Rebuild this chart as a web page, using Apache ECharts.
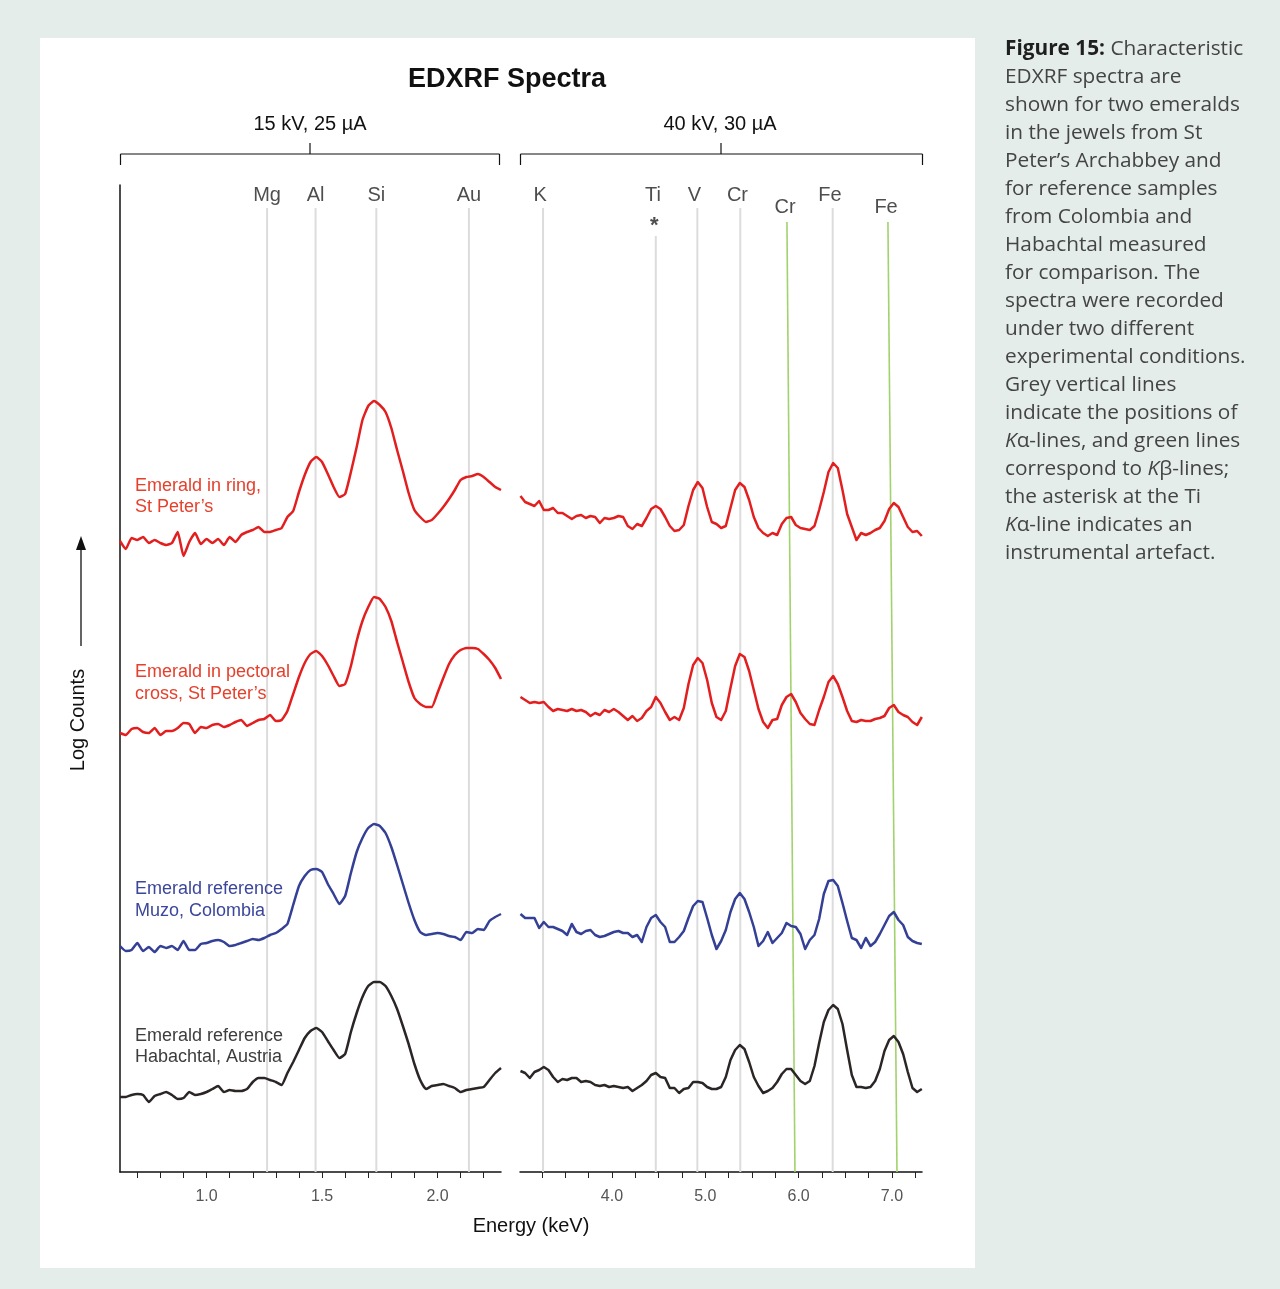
<!DOCTYPE html>
<html>
<head>
<meta charset="utf-8">
<script src="https://cdn.jsdelivr.net/npm/echarts@6/dist/echarts.min.js"></script>
<style>
  html, body { margin: 0; padding: 0; background: #e4edea; }
  #chart { width: 1280px; height: 1289px; }
</style>
</head>
<body>
<div id="chart"></div>
<script>
// ---- Energy channels (keV) ----
const lowStart = 0.625, lowStep = 0.025;   // 15 kV, 25 µA window
const highStart = 3.02, highStep = 0.05;   // 40 kV, 30 µA window

// ---- Log counts (arbitrary units, spectra stacked) ----
const ringLow = [631,623,634,632,635,629,632,629,627,629,640,616,630,639,628,633,629,633,627,635,630,637,640,642,645,640,640,642,644,655,661,680,697,710,715,710,698,685,675,678,700,725,752,766,771,767,760,744,722,701,679,662,655,650,652,658,665,673,682,692,695,696,698,695,690,685,682];
const ringHigh = [676,670,668,666,671,662,662,664,659,659,656,653,656,657,654,656,655,649,654,653,654,656,655,646,643,648,646,654,663,666,663,655,646,641,642,647,666,682,690,684,665,650,648,644,646,664,682,689,685,672,655,644,639,636,639,637,648,654,655,647,644,643,642,646,662,680,700,709,704,682,658,645,632,639,637,639,642,644,651,663,669,665,655,645,640,641,636];

const crossLow = [439,437,443,444,440,439,444,437,441,441,444,449,448,439,445,444,447,448,445,447,450,452,446,449,452,453,457,451,452,461,478,495,509,518,521,516,507,496,486,488,506,531,551,565,575,573,565,551,530,510,490,474,468,465,465,479,494,508,517,522,524,524,523,518,512,504,493];
const crossHigh = [475,472,469,470,469,470,465,461,463,462,461,463,461,462,460,456,459,457,462,460,463,460,456,452,456,451,454,461,465,475,469,460,452,455,452,464,488,507,514,509,492,469,455,452,461,484,506,518,515,501,482,463,450,444,452,453,467,475,478,470,459,453,448,447,462,475,490,496,488,475,461,451,450,452,451,451,453,454,456,464,467,460,457,455,450,447,455];

const muzoLow = [226,221,222,229,221,225,220,226,224,226,222,231,222,222,228,229,231,232,230,226,227,229,231,233,232,234,237,239,243,248,267,286,296,302,303,300,288,278,268,276,299,320,334,344,348,346,339,325,307,288,269,252,240,237,238,239,238,236,235,232,240,239,243,242,251,255,258];
const muzoHigh = [258,254,254,254,244,250,245,245,243,241,237,248,240,238,241,242,237,235,236,238,240,241,239,239,235,237,230,245,254,257,250,245,230,230,235,241,254,266,271,270,254,237,223,231,242,260,273,279,273,260,245,226,231,240,229,234,239,249,246,245,238,223,232,237,253,278,291,292,286,269,251,234,232,224,234,226,230,238,247,256,260,252,247,235,231,229,228];

const habachtalLow = [75,75,77,78,77,70,76,78,80,77,73,74,80,77,78,80,83,86,80,82,81,81,83,90,94,94,92,90,87,99,110,122,134,141,144,140,131,122,114,118,140,159,175,186,190,190,186,176,163,146,128,108,92,83,86,87,88,86,84,80,82,83,84,85,92,99,104];
const habachtalHigh = [101,99,94,100,102,105,102,95,90,93,92,94,94,90,91,90,87,86,87,85,86,85,84,85,81,84,87,91,97,99,95,94,84,84,79,83,84,90,90,89,85,83,83,85,95,112,122,127,123,110,95,86,79,81,84,90,98,103,103,97,91,88,91,106,129,150,162,167,163,148,122,97,85,85,84,85,91,103,121,132,136,130,118,100,84,80,83];

// ---- Axis ticks and labels (keV) ----
const lowTicks = [0.7,0.8,0.9,1.0,1.1,1.2,1.3,1.4,1.5,1.6,1.7,1.8,1.9,2.0,2.1,2.2];
const lowTickLabels = [1.0,1.5,2.0];
const highTicks = [3.25,3.5,3.75,4.0,4.25,4.5,4.75,5.0,5.25,5.5,5.75,6.0,6.25,6.5,6.75,7.0,7.25];
const highTickLabels = [4.0,5.0,6.0,7.0];

// ---- Kα line positions (keV) ----
const lowKalpha = [
  { name: 'Mg', energy: 1.262 },
  { name: 'Al', energy: 1.472 },
  { name: 'Si', energy: 1.735 },
  { name: 'Au', energy: 2.136 }
];
const highKalpha = [
  { name: 'K',  energy: 3.262 },
  { name: 'Ti', energy: 4.47 },
  { name: 'V',  energy: 4.915 },
  { name: 'Cr', energy: 5.375 },
  { name: 'Fe', energy: 6.365 }
];
// Kβ lines, drawn from their top energy to their energy at the axis
const highKbeta = [
  { name: 'Cr', top: 5.875, bottom: 5.961 },
  { name: 'Fe', top: 6.957, bottom: 7.054 }
];
const artefactLine = 'Ti';

const FONT = '"Liberation Sans", Arial, sans-serif';
const RED = '#e31e1e', BLUE = '#343f96', DARK = '#2b2625';

function channels(values, start, step) {
  return values.map((v, i) => [+(start + i * step).toFixed(4), v]);
}

function spectrum(name, values, start, step, color, grid) {
  return {
    name, type: 'line', xAxisIndex: grid, yAxisIndex: grid,
    data: channels(values, start, step),
    symbol: 'none', smooth: grid === 0 ? 0.15 : false, silent: true, z: 5,
    lineStyle: { color, width: 2.5, join: 'round' }
  };
}

const series = [];

// grey Kα marker lines
const LINE_TOP = 964, TI_TOP = 936, LABEL_Y = 979;
lowKalpha.forEach(l => series.push({
  type: 'line', xAxisIndex: 0, yAxisIndex: 0, symbol: 'none', silent: true, z: 1,
  data: [[l.energy, 0], [l.energy, LINE_TOP]],
  lineStyle: { color: '#dcdcdc', width: 2 }
}));
highKalpha.forEach(l => series.push({
  type: 'line', xAxisIndex: 1, yAxisIndex: 1, symbol: 'none', silent: true, z: 1,
  data: [[l.energy, 0], [l.energy, l.name === artefactLine ? TI_TOP : LINE_TOP]],
  lineStyle: { color: '#dcdcdc', width: 2 }
}));
// green Kβ marker lines
highKbeta.forEach(l => series.push({
  type: 'line', xAxisIndex: 1, yAxisIndex: 1, symbol: 'none', silent: true, z: 2,
  data: [[l.bottom, 0], [l.top, 950]],
  lineStyle: { color: '#a2d26c', width: 1.6 }
}));

// element labels
const labelStyle = { show: true, position: 'inside', formatter: '{b}', color: '#222', fontSize: 20, fontFamily: FONT };
series.push({
  type: 'scatter', xAxisIndex: 0, yAxisIndex: 0, symbolSize: 1, silent: true, z: 6,
  itemStyle: { color: 'rgba(0,0,0,0)' }, label: labelStyle,
  data: lowKalpha.map(l => ({ name: l.name, value: [l.energy, LABEL_Y - 2] }))
});
series.push({
  type: 'scatter', xAxisIndex: 1, yAxisIndex: 1, symbolSize: 1, silent: true, z: 6,
  itemStyle: { color: 'rgba(0,0,0,0)' }, label: labelStyle,
  data: highKalpha.map(l => ({ name: l.name, value: [l.energy - 0.03, LABEL_Y - 2] }))
    .concat(highKbeta.map(l => ({ name: l.name, value: [l.top - 0.02, 965] })))
    .concat(highKalpha.filter(l => l.name === artefactLine)
      .map(l => ({ name: '*', value: [l.energy - 0.015, 946], label: { fontSize: 22, fontWeight: 'bold' } })))
});

// spectra
series.push(spectrum('Emerald in ring, St Peter’s', ringLow, lowStart, lowStep, RED, 0));
series.push(spectrum('Emerald in ring, St Peter’s', ringHigh, highStart, highStep, RED, 1));
series.push(spectrum('Emerald in pectoral cross, St Peter’s', crossLow, lowStart, lowStep, RED, 0));
series.push(spectrum('Emerald in pectoral cross, St Peter’s', crossHigh, highStart, highStep, RED, 1));
series.push(spectrum('Emerald reference Muzo, Colombia', muzoLow, lowStart, lowStep, BLUE, 0));
series.push(spectrum('Emerald reference Muzo, Colombia', muzoHigh, highStart, highStep, BLUE, 1));
series.push(spectrum('Emerald reference Habachtal, Austria', habachtalLow, lowStart, lowStep, DARK, 0));
series.push(spectrum('Emerald reference Habachtal, Austria', habachtalHigh, highStart, highStep, DARK, 1));

function energyAxis(grid, min, max, ticks, labels) {
  return {
    type: 'value', gridIndex: grid, min, max,
    axisLine: { show: true, onZero: false, lineStyle: { color: '#111', width: 1.5 } },
    axisTick: { show: true, customValues: ticks, length: 6, inside: false, lineStyle: { color: '#222', width: 1 } },
    axisLabel: { show: true, customValues: labels, formatter: v => Number(v).toFixed(1),
                 color: '#555', fontSize: 16, fontFamily: FONT, margin: 17 },
    splitLine: { show: false }
  };
}

function countsAxis(grid, showLine) {
  return {
    type: 'value', gridIndex: grid, min: 0, max: 987,
    axisLine: { show: showLine, lineStyle: { color: '#111', width: 1.5 } },
    axisTick: { show: false }, axisLabel: { show: false }, splitLine: { show: false }
  };
}

// caption beside the figure
const captionLines = [
  '{b|Figure 15:} Characteristic',
  'EDXRF spectra are',
  'shown for two emeralds',
  'in the jewels from St',
  'Peter’s Archabbey and',
  'for reference samples',
  'from Colombia and',
  'Habachtal measured',
  'for comparison. The',
  'spectra were recorded',
  'under two different',
  'experimental conditions.',
  'Grey vertical lines',
  'indicate the positions of',
  '{i|K}α-lines, and green lines',
  'correspond to {i|K}β-lines;',
  'the asterisk at the Ti',
  '{i|K}α-line indicates an',
  'instrumental artefact.'
];
const CAP_FONT = '"Open Sans", "Noto Sans", sans-serif';
const CAP_SIZE = 20.8;
const captionText = captionLines.map((t, i) => ({
  type: 'text', left: 1005, top: 39 + i * 28, z: 10,
  style: {
    text: t, fill: '#444444', font: '400 ' + CAP_SIZE + 'px ' + CAP_FONT,
    rich: {
      b: { fontWeight: 'bold', fontSize: CAP_SIZE, fontFamily: CAP_FONT, fill: '#1f1f1f', fontStyle: 'normal' },
      i: { fontStyle: 'italic', fontSize: CAP_SIZE, fontFamily: CAP_FONT, fill: '#444444' }
    }
  }
}));

function text(x, y, str, size, color, extra) {
  return Object.assign({
    type: 'text', x, y, z: 10,
    style: { text: str, fill: color, fontSize: size, fontFamily: FONT,
             textAlign: 'left', textVerticalAlign: 'middle' }
  }, extra || {});
}

const lineStyle = { stroke: '#111', lineWidth: 1.2 };
function seg(x1, y1, x2, y2) {
  return { type: 'line', z: 10, shape: { x1, y1, x2, y2 }, style: lineStyle };
}

const graphic = [
  { type: 'rect', z: -10, shape: { x: 40, y: 38, width: 935, height: 1230 }, style: { fill: '#ffffff' } },
  // title
  { type: 'text', x: 507, y: 80, z: 10,
    style: { text: 'EDXRF Spectra', fontSize: 27, fontWeight: 'bold', fontFamily: FONT, fill: '#111',
             textAlign: 'center', textVerticalAlign: 'middle' } },
  // measurement-condition brackets
  { type: 'text', x: 310, y: 124, z: 10,
    style: { text: '15 kV, 25 µA', fontSize: 20, fontFamily: FONT, fill: '#111', textAlign: 'center', textVerticalAlign: 'middle' } },
  { type: 'text', x: 720, y: 124, z: 10,
    style: { text: '40 kV, 30 µA', fontSize: 20, fontFamily: FONT, fill: '#111', textAlign: 'center', textVerticalAlign: 'middle' } },
  seg(120.5, 154, 499.5, 154), seg(120.5, 154, 120.5, 165), seg(499.5, 154, 499.5, 165), seg(310, 154, 310, 143),
  seg(520.5, 154, 922.5, 154), seg(520.5, 154, 520.5, 165), seg(922.5, 154, 922.5, 165), seg(721, 154, 721, 143),
  // y axis title and arrow
  { type: 'text', x: 78, y: 720, rotation: Math.PI / 2, z: 10,
    style: { text: 'Log Counts', fontSize: 20, fontFamily: FONT, fill: '#111', textAlign: 'center', textVerticalAlign: 'middle' } },
  { type: 'line', z: 10, shape: { x1: 81, y1: 646, x2: 81, y2: 548 }, style: { stroke: '#111', lineWidth: 1.3 } },
  { type: 'polygon', z: 10, shape: { points: [[81, 536], [76, 550], [86, 550]] }, style: { fill: '#111' } },
  // x axis title
  { type: 'text', x: 531, y: 1226, z: 10,
    style: { text: 'Energy (keV)', fontSize: 20, fontFamily: FONT, fill: '#111', textAlign: 'center', textVerticalAlign: 'middle' } },
  // spectrum names
  text(135, 486, 'Emerald in ring,', 18, '#e6402c'),
  text(135, 507, 'St Peter’s', 18, '#e6402c'),
  text(135, 672, 'Emerald in pectoral', 18, '#e6402c'),
  text(135, 694, 'cross, St Peter’s', 18, '#e6402c'),
  text(135, 889, 'Emerald reference', 18, '#3c479a'),
  text(135, 911, 'Muzo, Colombia', 18, '#3c479a'),
  text(135, 1036, 'Emerald reference', 18, '#3d3d3d'),
  text(135, 1057, 'Habachtal, Austria', 18, '#3d3d3d')
].concat(captionText);

const chart = echarts.init(document.getElementById('chart'), null, { renderer: 'canvas' });
chart.setOption({
  animation: false,
  backgroundColor: '#e4edea',
  grid: [
    { left: 120, top: 185, width: 381, height: 987 },
    { left: 520, top: 185, width: 402, height: 987 }
  ],
  xAxis: [
    energyAxis(0, 0.625, 2.275, lowTicks, lowTickLabels),
    energyAxis(1, 3.015, 7.322, highTicks, highTickLabels)
  ],
  yAxis: [countsAxis(0, true), countsAxis(1, false)],
  series,
  graphic
});
</script>
</body>
</html>
